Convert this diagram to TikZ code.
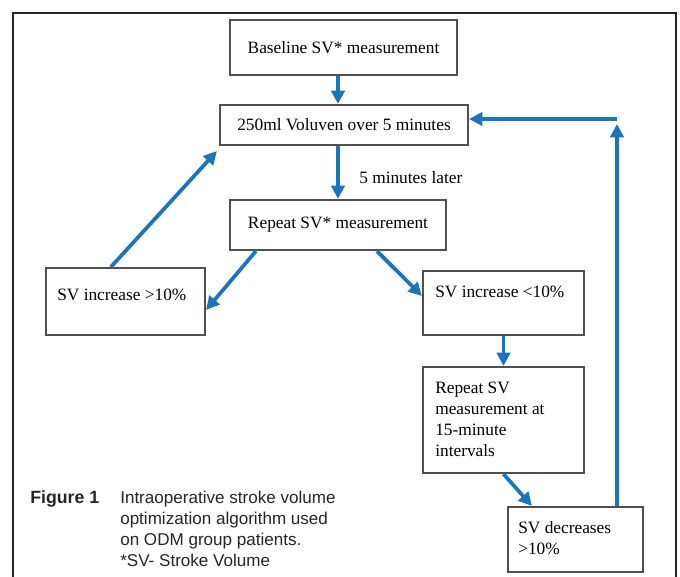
\documentclass[tikz,border=0pt]{standalone}
\usepackage{fontspec}
\setmainfont{Liberation Serif}
\setsansfont{Liberation Sans}
\usetikzlibrary{arrows.meta,calc}
\definecolor{arrowblue}{RGB}{27,117,188}
\definecolor{boxgray}{RGB}{80,80,80}
\tikzset{
  flowbox/.style={draw=boxgray,line width=1.6pt,fill=white,inner sep=0pt,font=\fontsize{13}{15}\selectfont},
  boxtext/.style={inner sep=0pt,align=left,font=\fontsize{13}{15.75}\selectfont},
  flowarrow/.style={draw=arrowblue,line width=2.8pt,-{Triangle[length=10pt,width=10pt]}},
  captext/.style={inner sep=0pt,anchor=base west,font=\sffamily\fontsize{12.8}{15}\selectfont,text=black!85},
}
\begin{document}
\begin{tikzpicture}[x=0.75pt,y=-0.75pt]
\useasboundingbox (0,0) rectangle (680,576);
\fill[white] (0,0) rectangle (680,576);
% outer frame
\draw[black!85,line width=1pt] (13,580) -- (13,13) -- (676,13) -- (676,580);

% boxes
\node[flowbox,minimum width=227*0.75pt,minimum height=55*0.75pt] (base) at (343.5,47.5) {Baseline SV* measurement};
\node[flowbox,minimum width=248*0.75pt,minimum height=40*0.75pt] (vol) at (344,125) {250ml Voluven over 5 minutes};
\node[flowbox,minimum width=216*0.75pt,minimum height=50*0.75pt] (rep) at (338,225) {Repeat SV* measurement};
\node[flowbox,minimum width=159*0.75pt,minimum height=67*0.75pt] (inc) at (125.5,301.5) {};
\node[boxtext,anchor=west] (inct) at (57,295) {SV increase >10\%};
\node[flowbox,minimum width=161*0.75pt,minimum height=64*0.75pt] (lt) at (503.5,303) {};
\node[boxtext,anchor=west] (ltt) at (435,292) {SV increase <10\%};
\node[flowbox,minimum width=161*0.75pt,minimum height=106*0.75pt] (rf) at (503.5,420) {};
\node[boxtext,anchor=west] (rft) at (435,419) {Repeat SV\\measurement at\\15-minute\\intervals};
\node[flowbox,minimum width=135*0.75pt,minimum height=65*0.75pt] (dec) at (575.5,539.5) {};
\node[boxtext,anchor=west] (dect) at (518,538.5) {SV decreases\\>10\%};

% label
\node[boxtext,anchor=west] (later) at (359,178) {5 minutes later};

% connectors
\draw[flowarrow] (base.south -| rep.north) -- (vol.north -| rep.north);
\draw[flowarrow] (vol.south -| rep.north) -- (rep.north);
\draw[flowarrow] ($(rep.south west)+(27,0)$) -- ($(inc.east)+(0,8.5)$);
\draw[flowarrow] ($(rep.south west)+(148,0)$) -- ($(lt.west)+(0,-7)$);
\draw[flowarrow] ($(inc.north west)+(66,0)$) -- ($(vol.south west)+(-2,5)$);
\draw[flowarrow] (lt.south) -- (rf.north);
\draw[flowarrow] (rf.south) -- ($(dec.north west)+(25,0)$);
\coordinate (up) at (617,124);
\coordinate (corner) at (617,119);
\draw[flowarrow] (dec.north -| up) -- (up);
\draw[flowarrow] (corner) -- (corner -| vol.east);

% caption
\node[captext,font=\sffamily\bfseries\fontsize{13.3}{15}\selectfont] (fig) at (30,503) {Figure 1};
\node[captext] (cap1) at (120,503) {Intraoperative stroke volume};
\node[captext] (cap2) at (120,524) {optimization algorithm used};
\node[captext] (cap3) at (120,545) {on ODM group patients.};
\node[captext] (cap4) at (120,566) {*SV- Stroke Volume};
\end{tikzpicture}
\end{document}
